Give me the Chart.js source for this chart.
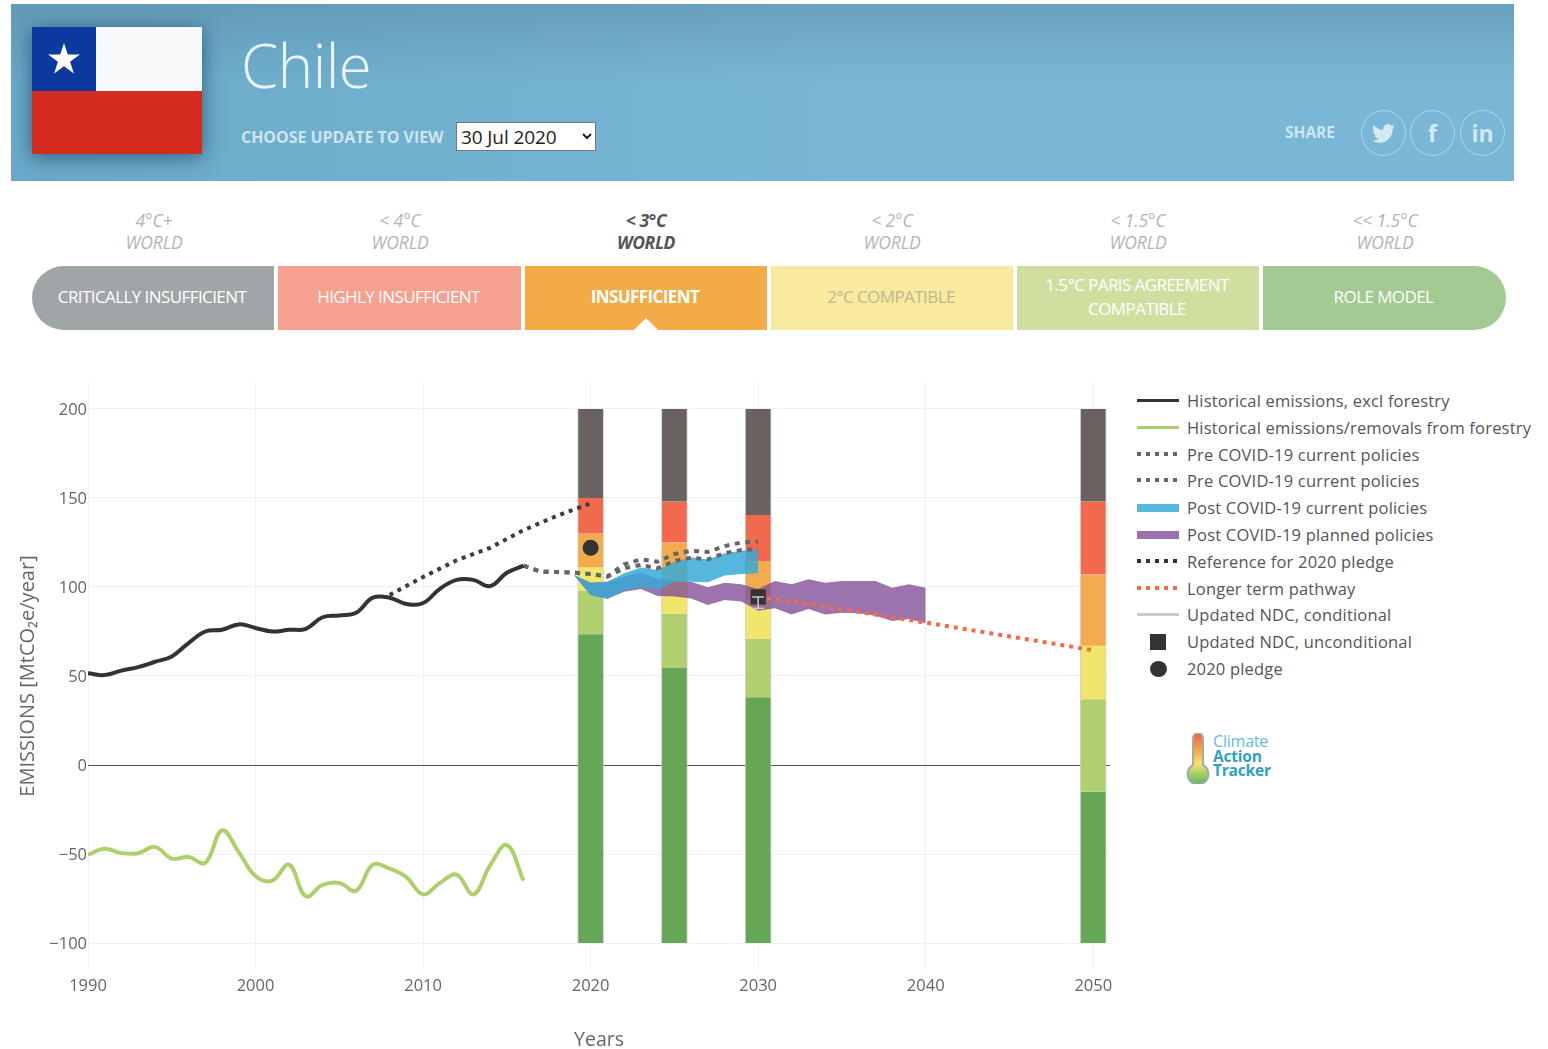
<!DOCTYPE html>
<html>
<head>
<meta charset="utf-8">
<title>Chile</title>
<script src="https://cdn.jsdelivr.net/npm/chart.js@4/dist/chart.umd.js"></script>
<style>
  html, body { margin: 0; background: #fff; overflow: hidden; }
  body { width: 1548px; height: 1049px; position: relative; font-family: "Open Sans", sans-serif; overflow: hidden; }
  .abs { position: absolute; }
  #banner { left: 11px; top: 4px; width: 1503px; height: 177px;
    background: linear-gradient(180deg, rgba(85,135,165,.45) 0, rgba(85,135,165,0) 45%), linear-gradient(90deg, #6aa9c9, #7ab7d6 55%, #7ab7d6); }
  #title { left: 241px; top: 26px; font-size: 60px; font-weight: 300; color: #eaf5f9; line-height: 78px; letter-spacing: -0.5px; }
  #chooseLabel { left: 241px; top: 126px; font-size: 16px; font-weight: 700; color: #cde5ef; letter-spacing: -0.05px; line-height: 22px; white-space: nowrap; }
  #update { left: 456px; top: 122px; width: 140px; height: 29px; font: 19px "Open Sans", sans-serif; letter-spacing: -0.1px; background: #fff; color: #222; border: 1px solid #777; padding: 0; }
  #shareLabel { left: 1285px; top: 121px; font-size: 15.5px; font-weight: 700; color: #cde5ef; letter-spacing: 0; line-height: 22px; }
  .share { top: 110px; width: 43px; height: 44px; border: 1.2px solid #a8d2e5; border-radius: 50%; color: #d5e9f2;
    display: flex; align-items: center; justify-content: center; font-weight: 700; font-size: 23px; }
  .world { width: 200px; text-align: center; font-size: 17.5px; font-style: italic; color: #b4b4b4; line-height: 22px; letter-spacing: -0.1px; white-space: nowrap; }
  .world.on { color: #555; font-weight: 700; letter-spacing: -0.4px; }
  .seg { top: 266px; height: 64px; box-sizing: border-box; padding: 0 2px 2px 0; display: flex; align-items: center; justify-content: center; text-align: center;
    font-size: 17px; line-height: 24px; letter-spacing: -0.58px; color: #fff; }
  #notch { left: 634px; top: 318px; width: 0; height: 0; border-left: 12px solid transparent; border-right: 12px solid transparent; border-bottom: 12px solid #fff; }
  #chart { left: 0; top: 360px; }
  #legend div.row { position: absolute; left: 1137px; height: 20px; }
  #legend .txt { position: absolute; left: 50px; top: -2px; font-size: 16.5px; line-height: 24px; color: #555; white-space: nowrap; letter-spacing: 0.19px; }
  #legend .swatch { position: absolute; left: 0; top: 8px; width: 42px; }
  #logoText { left: 1213px; top: 734px; font-size: 15.5px; line-height: 14.5px; color: #2f9fca; font-weight: 700; letter-spacing: -0.2px; }
  #logoText span { font-weight: 400; font-size: 16px; color: #62bbdc; }
</style>
</head>
<body>
<div id="banner" class="abs"></div>
<svg class="abs" style="left:32px;top:27px;overflow:visible;filter:drop-shadow(0 3px 10px rgba(20,60,90,.7))" width="170" height="127" viewBox="0 0 170 127">
  <rect width="170" height="64" fill="#f7f8fa"/>
  <rect y="64" width="170" height="63" fill="#d52b1e"/>
  <rect width="64" height="64" fill="#0a3a9f"/>
  <polygon fill="#fff" points="32,16 35.8,27.6 48,27.6 38.1,34.8 41.9,46.4 32,39.2 22.1,46.4 25.9,34.8 16,27.6 28.2,27.6"/>
</svg>
<div id="title" class="abs">Chile</div>
<div id="chooseLabel" class="abs">CHOOSE UPDATE TO VIEW</div>
<select id="update" class="abs"><option>30 Jul 2020</option></select>
<div id="shareLabel" class="abs">SHARE</div>
<div class="abs share" style="left:1361px">
  <svg width="23" height="23" viewBox="0 0 24 24"><path fill="#d5e9f2" d="M23.953 4.57a10 10 0 01-2.825.775 4.958 4.958 0 002.163-2.723c-.951.555-2.005.959-3.127 1.184a4.92 4.92 0 00-8.384 4.482C7.69 8.095 4.067 6.13 1.64 3.162a4.822 4.822 0 00-.666 2.475c0 1.71.87 3.213 2.188 4.096a4.904 4.904 0 01-2.228-.616v.06a4.923 4.923 0 003.946 4.827 4.996 4.996 0 01-2.212.085 4.936 4.936 0 004.604 3.417 9.867 9.867 0 01-6.102 2.105c-.39 0-.779-.023-1.17-.067a13.995 13.995 0 007.557 2.209c9.053 0 13.998-7.496 13.998-13.985 0-.21 0-.42-.015-.63A9.935 9.935 0 0024 4.59z"/></svg>
</div>
<div class="abs share" style="left:1410px">f</div>
<div class="abs share" style="left:1460px">in</div>
<div id="worlds"></div>
<div id="segments"></div>
<div id="notch" class="abs"></div>
<canvas id="chart" class="abs" width="1130" height="692"></canvas>
<div id="legend"></div>
<svg class="abs" style="left:1186px;top:733px" width="24" height="51" viewBox="0 0 24 51">
  <defs><linearGradient id="th" x1="0" y1="0" x2="0" y2="1">
    <stop offset="0" stop-color="#ef5f45"/><stop offset=".35" stop-color="#f2ab4d"/><stop offset=".6" stop-color="#f1e56b"/><stop offset="1" stop-color="#58b46a"/>
  </linearGradient></defs>
  <path d="M7 5a5 5 0 0 1 10 0v27a10.5 10.5 0 1 1-10 0z" fill="url(#th)" stroke="#a9a9a9" stroke-width="2"/>
</svg>
<div id="logoText" class="abs"><span>Climate</span><br>Action<br>Tracker</div>

<script>
// header strip
const worldTemps = ["4°C+", "< 4°C", "< 3°C", "< 2°C", "< 1.5°C", "<< 1.5°C"];
const worldCentres = [154, 400, 646, 892, 1138, 1385];
const ratingNames = ["CRITICALLY INSUFFICIENT", "HIGHLY INSUFFICIENT", "INSUFFICIENT", "2°C COMPATIBLE", "1.5°C PARIS AGREEMENT<br>COMPATIBLE", "ROLE MODEL"];
const ratingLeft = [32, 278, 525, 771, 1017, 1263];
const ratingWidth = [242, 243, 242, 242, 242, 243];
const ratingColors = ["#a0a5a7", "#f6a190", "#f2ab47", "#f8eb9f", "#cfdf9f", "#a2ca92"];
const activeRating = 2;

worldTemps.forEach((t, i) => {
  const cls = "abs world" + (i === activeRating ? " on" : "");
  document.getElementById("worlds").insertAdjacentHTML("beforeend",
    `<div class="${cls}" style="left:${worldCentres[i] - 100}px;top:209px">${t.replace(/</g, "&lt;")}</div>` +
    `<div class="${cls}" style="left:${worldCentres[i] - 100}px;top:231px">WORLD</div>`);
});
ratingNames.forEach((name, i) => {
  const radius = i === 0 ? "border-radius:32px 0 0 32px;" : i === 5 ? "border-radius:0 32px 32px 0;" : "";
  const text = i === 3 ? "color:#bcb98f;" : i === activeRating ? "font-weight:700;" : "";
  document.getElementById("segments").insertAdjacentHTML("beforeend",
    `<div class="abs seg" style="left:${ratingLeft[i]}px;width:${ratingWidth[i]}px;background:${ratingColors[i]};${radius}${text}">${name}</div>`);
});

// historical series
const histYears = [1990, 1991, 1992, 1993, 1994, 1995, 1996, 1997, 1998, 1999, 2000, 2001, 2002, 2003, 2004, 2005, 2006, 2007, 2008, 2009, 2010, 2011, 2012, 2013, 2014, 2015, 2016];
const histExclForestry = [51.5, 50.5, 53, 55, 58, 61, 68.5, 75, 76, 79, 77, 75, 76, 76.5, 83, 84, 85.5, 94, 94, 90.5, 91, 99, 104, 104, 100.5, 108, 112];
const histForestry = [-50.4, -47, -49.5, -49.6, -46, -52.6, -51.7, -55, -36.7, -49, -62.4, -65, -56, -73.8, -67.4, -66.3, -70.6, -56, -58.2, -63, -72.7, -66.3, -61.6, -72.7, -56.4, -45, -65];

// dotted lines
const refYears = [2008, 2010, 2012, 2014, 2016, 2018, 2020];
const refPledge = [95.5, 105.6, 115, 122, 132, 140, 147];
const preYears = [2016, 2017, 2018, 2019, 2020, 2021, 2022, 2023, 2024, 2025, 2026, 2027, 2028, 2029, 2030];
const preUpper = [112, 108.6, 108.4, 108, 107.3, 106, 112.7, 115.5, 114.2, 118.5, 120.4, 119.7, 123, 125, 125.6];
const preLower = [112, 108.6, 108.4, 108, 107.3, 105.8, 110.5, 112.4, 110.5, 114.6, 116.5, 115.5, 119, 120.8, 121.3];
const longYears = [2030, 2035, 2040, 2050];
const longTerm = [94.5, 87.5, 80, 64.5];

// bands
const postYears = [2019, 2020, 2021, 2022, 2023, 2024, 2025, 2026, 2027, 2028, 2029, 2030];
const postUpper = [106.8, 102.4, 103, 107.7, 110.9, 109.5, 114, 116.7, 115.5, 119, 120.4, 121];
const postLower = [106.8, 95.5, 93.4, 98, 100, 98.7, 103, 103, 102.6, 106.4, 107.3, 107.7];
const plannedYears = [2019, 2020, 2021, 2022, 2023, 2024, 2025, 2026, 2027, 2028, 2029, 2030, 2031, 2032, 2033, 2034, 2035, 2036, 2037, 2038, 2039, 2040];
const plannedUpper = [106.8, 102.4, 103, 105.8, 108, 104.5, 103.4, 103, 99.8, 102.4, 101.5, 98.9, 103.4, 101.5, 104.3, 102.4, 103.4, 103.4, 103.4, 99.6, 101.5, 99.6];
const plannedLower = [106.8, 95.5, 93.4, 97.4, 98.9, 95, 94.6, 93.6, 89.9, 92.7, 91.8, 86.7, 88, 84.6, 87.6, 84.6, 85.6, 85.2, 83.9, 80.9, 82, 79.6];

// rating columns, edges from top to bottom for each year
const barYears = [2020, 2025, 2030, 2050];
const edgeTop = [200, 200, 200, 200];
const edgeGreyRed = [150, 148, 140.5, 148];
const edgeRedOrange = [130, 125, 114.6, 107];
const edgeOrangeYellow = [111, 103, 93, 67];
const edgeYellowLight = [98, 85, 71, 37];
const edgeLightGreen = [73.5, 54.5, 38, -15];
const edgeBottom = [-100, -100, -100, -100];

// markers
const pledgeYear = [2020];
const pledgeValue = [122];
const ndcYear = [2030];
const ndcUnconditional = [94.4];
const ndcConditionalYears = [2030, 2030];
const ndcConditional = [94.4, 88];

const xTickValues = [1990, 2000, 2010, 2020, 2030, 2040, 2050];
const yTickValues = [-100, -50, 0, 50, 100, 150, 200];

const legendLabels = ["Historical emissions, excl forestry", "Historical emissions/removals from forestry", "Pre COVID-19 current policies", "Pre COVID-19 current policies", "Post COVID-19 current policies", "Post COVID-19 planned policies", "Reference for 2020 pledge", "Longer term pathway", "Updated NDC, conditional", "Updated NDC, unconditional", "2020 pledge"];
const legendKinds = ["solid", "solid", "dot", "dot", "band", "band", "dot", "dot", "solid", "square", "circle"];
const legendColors = ["#333333", "#afcf6c", "#666666", "#666666", "#55b8dc", "#9b70ac", "#333333", "#f2694d", "#cccccc", "#333333", "#333333"];

const legendBox = document.getElementById("legend");
legendLabels.forEach((label, i) => {
  const c = legendColors[i];
  let sw = "";
  if (legendKinds[i] === "solid") sw = `<div class="swatch" style="height:3px;background:${c}"></div>`;
  if (legendKinds[i] === "band") sw = `<div class="swatch" style="top:6px;height:8px;background:${c}"></div>`;
  if (legendKinds[i] === "dot") sw = `<div class="swatch" style="top:7px;height:4px;width:40px;background:repeating-linear-gradient(90deg,${c} 0 4px,transparent 4px 9px)"></div>`;
  if (legendKinds[i] === "square") sw = `<div class="swatch" style="left:13px;top:2px;width:16px;height:16px;background:${c}"></div>`;
  if (legendKinds[i] === "circle") sw = `<div class="swatch" style="left:13px;top:2px;width:17px;height:16px;border-radius:50%;background:${c}"></div>`;
  legendBox.insertAdjacentHTML("beforeend",
    `<div class="row" style="top:${391 + i * 26.8}px">${sw}<div class="txt">${label}</div></div>`);
});

const pts = (xs, ys) => xs.map((x, i) => ({ x, y: ys[i] }));
const floats = (hi, lo) => barYears.map((x, i) => ({ x, y: [lo[i], hi[i]] }));

function barSet(hi, lo, color) {
  return {
    type: "bar",
    data: floats(hi, lo),
    backgroundColor: color,
    borderColor: "rgba(190,190,190,0.7)",
    borderWidth: { left: 1, right: 1 },
    borderSkipped: false,
    barThickness: 26,
    grouped: false,
    order: 10,
  };
}
function lineSet(xs, ys, color, extra) {
  return Object.assign({
    type: "line",
    data: pts(xs, ys),
    borderColor: color,
    borderWidth: 4,
    pointRadius: 0,
    fill: false,
    tension: 0,
    order: 3,
  }, extra);
}

new Chart(document.getElementById("chart"), {
  data: {
    datasets: [
      barSet(edgeTop, edgeGreyRed, "#6a6260"),
      barSet(edgeGreyRed, edgeRedOrange, "#f2694d"),
      barSet(edgeRedOrange, edgeOrangeYellow, "#f2ab4d"),
      barSet(edgeOrangeYellow, edgeYellowLight, "#f1e56b"),
      barSet(edgeYellowLight, edgeLightGreen, "#b0cf6e"),
      barSet(edgeLightGreen, edgeBottom, "#65a657"),
      // planned band: upper fills down to the next dataset
      lineSet(plannedYears, plannedUpper, "transparent", { borderWidth: 0, fill: "+1", backgroundColor: "rgba(130,76,151,0.78)", order: 8 }),
      lineSet(plannedYears, plannedLower, "transparent", { borderWidth: 0, order: 8 }),
      lineSet(postYears, postUpper, "transparent", { borderWidth: 0, fill: "+1", backgroundColor: "rgba(55,170,215,0.85)", order: 7 }),
      lineSet(postYears, postLower, "transparent", { borderWidth: 0, order: 7 }),
      lineSet(histYears, histExclForestry, "#333333", { tension: 0.4 }),
      lineSet(histYears, histForestry, "#afcf6c", { tension: 0.4 }),
      lineSet(refYears, refPledge, "#3d3d3d", { borderDash: [4, 5] }),
      lineSet(preYears, preUpper, "#666666", { borderDash: [5, 5.5] }),
      lineSet(preYears, preLower, "#666666", { borderDash: [5, 5.5] }),
      lineSet(longYears, longTerm, "#f2694d", { borderDash: [4, 5] }),
      { type: "scatter", data: pts(pledgeYear, pledgeValue), pointStyle: "circle", pointRadius: 8, backgroundColor: "#333333", borderWidth: 0, order: 2 },
      { type: "scatter", data: pts(ndcYear, ndcUnconditional), pointStyle: "rect", pointRadius: 10.8, backgroundColor: "#333333", borderWidth: 0, order: 2 },
      { type: "scatter", showLine: true, data: pts(ndcConditionalYears, ndcConditional), borderColor: "#cccccc", borderWidth: 1.5, pointStyle: "line", pointRadius: 6, pointBorderColor: "#cccccc", pointBorderWidth: 1.5, order: 1 },
    ],
  },
  options: {
    responsive: false,
    animation: false,
    events: [],
    layout: { padding: { left: 0, right: 20, top: 21, bottom: 0 } },
    plugins: { legend: { display: false }, tooltip: { enabled: false } },
    scales: {
      x: {
        type: "linear",
        offset: false,
        min: 1990,
        max: 2051,
        afterBuildTicks: (s) => { s.ticks = xTickValues.map((value) => ({ value })); },
        afterFit: (s) => { s.height = 81; },
        ticks: { color: "#666", font: { family: "Open Sans", size: 16.5 }, padding: 5, maxRotation: 0, autoSkip: false, callback: (v) => String(v) },
        grid: { color: "#f0f0f0", drawTicks: false, offset: false },
        border: { display: false },
        title: { display: true, text: "Years", color: "#666", font: { family: "Open Sans", size: 19.5 }, padding: { top: 11, bottom: 0 } },
      },
      y: {
        min: -115.73,
        max: 215.73,
        afterBuildTicks: (s) => { s.ticks = yTickValues.map((value) => ({ value })); },
        afterFit: (s) => { s.width = 88; },
        ticks: { color: "#666", font: { family: "Open Sans", size: 16.5 }, padding: 1, labelOffset: 1, autoSkip: false, callback: (v) => (v < 0 ? "\u2212" + Math.abs(v) : String(v)) },
        grid: { color: (c) => (c.tick && c.tick.value === 0 ? "#555555" : "#f0f0f0"), drawTicks: false },
        border: { display: false },
        title: { display: true, text: "EMISSIONS [MtCO₂e/year]", color: "#666", font: { family: "Open Sans", size: 20 }, padding: { top: 16, bottom: 0 } },
      },
    },
  },
});
</script>
</body>
</html>
